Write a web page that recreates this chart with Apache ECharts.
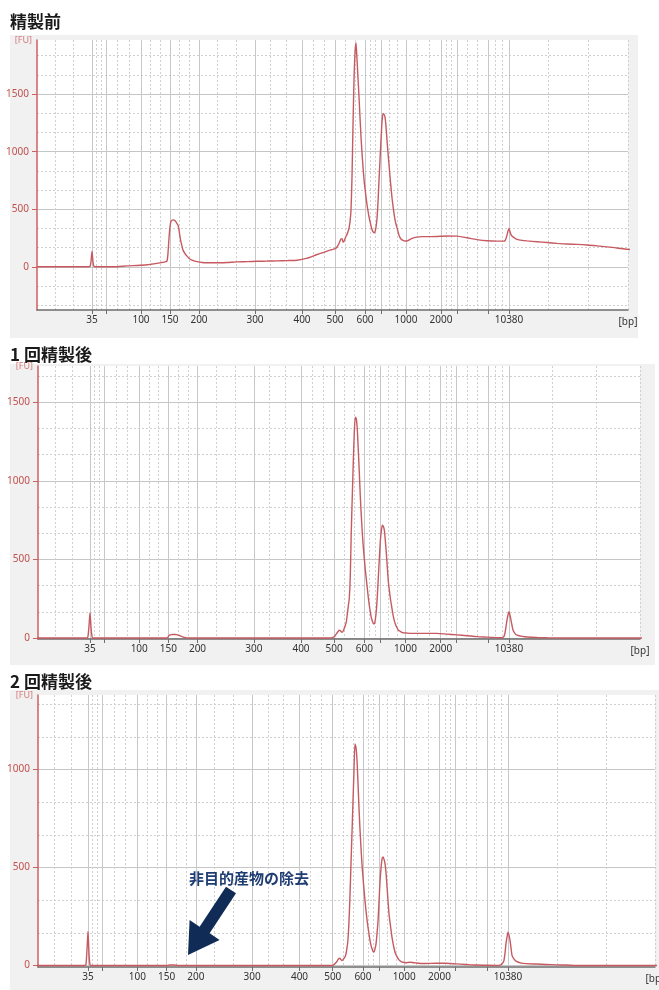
<!DOCTYPE html>
<html><head><meta charset="utf-8">
<script src="https://cdn.jsdelivr.net/npm/echarts@6/dist/echarts.min.js"></script>
<style>html,body{margin:0;padding:0;background:#fff}#c{width:659px;height:990px}</style>
</head><body><div id="c"></div>
<script>
// ---- data ----
const titles = ['精製前', '1 回精製後', '2 回精製後'];
const annotationText = '非目的産物の除去';
const ladderBp   = ['35','50','100','150','200','300','400','500','600','700','1000','2000','3000','7000','10380'];
const ladderTime = [55, 69, 104, 133, 162, 218, 265, 298, 328, 344, 369, 404, 420, 451, 472];
const labelledBp = ['35','100','150','200','300','400','500','600','1000','2000','10380'];
const yTickValues = [[0, 500, 1000, 1500], [0, 500, 1000, 1500], [0, 500, 1000]];

const time = [
  0,10,20,30,40,50,52,53,54,55,
  56,57,58,60,70,80,90,100,110,120,
  125,128,130,131,132,133,134,135,136,137,
  138,139,140,141,142,143,144,145,146,148,
  150,152,155,160,165,170,180,190,200,210,
  220,230,240,250,260,270,280,290,295,298,
  300,302,303,304,305,306,307,308,309,310,
  311,312,313,314,315,316,317,318,319,320,
  321,322,323,324,325,326,327,328,329,330,
  331,332,333,334,335,336,337,338,339,340,
  341,342,343,344,345,346,347,348,349,350,
  351,352,353,354,355,356,357,358,359,360,
  362,364,366,368,370,375,380,385,390,400,
  410,420,430,440,450,460,465,467,468,469,
  470,471,472,473,474,475,476,478,480,485,
  490,500,510,520,530,540,550,560,570,580,
  590,600,610,620,630
];
const fuBefore = [
  0,0,0,0,0,0,0,2,45,136,
  40,3,0,0,0,1,8,12,18,30,
  38,43,50,119,250,347,395,405,408,405,
  400,390,375,362,320,260,215,180,145,115,
  93,75,58,45,37,35,35,38,43,45,
  48,50,52,54,57,75,107,136,150,157,
  172,203,225,243,245,215,222,243,265,282,
  305,335,390,492,780,1230,1620,1860,1946,1800,
  1640,1477,1300,1130,990,870,760,680,608,540,
  485,434,395,355,325,305,296,305,345,420,
  560,750,927,1100,1260,1330,1325,1300,1220,1100,
  990,890,782,690,600,530,465,410,370,340,
  275,242,230,224,224,247,258,262,262,264,
  268,267,252,236,226,223,223,223,226,245,
  275,310,333,305,280,268,260,248,238,230,
  225,218,211,204,198,195,190,182,173,164,
  152,150,150,150,150
];
const fuAfter1 = [
  0,0,0,0,0,0,0,10,75,161,
  70,10,0,0,0,0,0,0,0,0,
  0,0,0,0,0,10,18,20,22,23,
  23,23,23,22,20,18,16,14,11,6,
  3,1,0,0,0,0,0,0,0,0,
  0,0,0,0,0,0,0,0,1,8,
  25,42,50,48,40,36,45,60,78,100,
  145,200,250,380,667,890,1110,1300,1405,1395,
  1330,1200,1060,905,780,670,580,505,435,375,
  315,258,208,165,130,108,92,90,118,175,
  270,390,510,620,685,718,710,685,615,535,
  440,355,300,250,210,170,135,108,88,72,
  50,42,35,33,32,30,30,30,30,30,
  25,20,15,9,6,3,2,10,32,70,
  114,145,167,145,114,80,51,28,19,11,
  7,4,2,1,0,0,0,0,0,0,
  0,0,0,0,0
];
const fuAfter2 = [
  0,0,0,0,0,0,0,5,80,173,
  60,3,0,0,0,0,0,0,0,0,
  0,0,0,0,0,0,0,1,2,2,
  2,2,2,2,1,1,0,0,0,0,
  0,0,0,0,0,0,0,0,0,0,
  0,0,0,0,0,0,0,0,0,0,
  8,19,28,35,37,30,25,28,35,42,
  55,85,125,210,340,500,660,820,980,1130,
  1115,1055,940,810,700,605,519,450,390,332,
  280,235,195,160,128,102,85,72,68,85,
  111,165,230,330,434,500,545,553,540,517,
  465,395,320,255,215,175,138,110,85,65,
  42,27,20,16,14,16,13,10,10,11,
  11,8,5,2,1,0,3,15,26,60,
  111,145,170,155,128,90,51,32,22,12,
  9,7,5,3,2,0,0,0,0,0,
  0,0,0,0,0
];
const traces = [fuBefore, fuAfter1, fuAfter2];

// ---- layout ----
const panels = [
  {left:37, top:40,  width:591, height:270, xMin:0,    xMax:591,   yMin:-375, yMax:1970, bg:[10,35,628,303],  titleY:22},
  {left:38, top:366, width:602, height:273, xMin:3.25, xMax:602.4, yMin:-6,   yMax:1730, bg:[10,364,645,301], titleY:355},
  {left:38, top:695, width:617, height:272, xMin:5.36, xMax:617.95,yMin:-8,   yMax:1380, bg:[10,690,649,300], titleY:682}
];
const labelTimes = labelledBp.map(b => ladderTime[ladderBp.indexOf(b)]);
function thirds(arr){const o=[];for(let i=0;i<arr.length-1;i++){const a=arr[i],b=arr[i+1];o.push(a+(b-a)/3,a+2*(b-a)/3);}return o;}
function yMinor(min,max){const o=[];for(let k=Math.floor(min/500);k<=Math.ceil(max/500);k++){[1,2].forEach(j=>{const v=k*500+j*500/3;if(v>min&&v<max)o.push(v);});}return o;}

const traceColor = '#c65a60';
const axisRed = '#cf5f5f';
const grid=[], xAxis=[], yAxis=[], series=[], graphic=[];
panels.forEach((p,i)=>{
  grid.push({left:p.left, top:p.top, width:p.width, height:p.height, show:true, backgroundColor:'#ffffff', borderWidth:0, containLabel:false, outerBoundsMode:'none'});
  const minorX = thirds([p.xMin, ...ladderTime, p.xMax]).concat([p.xMax]);
  xAxis.push({
    type:'value', gridIndex:i, min:p.xMin, max:p.xMax, position:'bottom',
    axisLine:{show:true, onZero:false, lineStyle:{color:'#6e6e6e', width:1.5}},
    axisTick:{show:true, customValues:ladderTime, length:4, lineStyle:{color:'#6e6e6e'}},
    axisLabel:{customValues:labelTimes, margin:5, color:'#333', fontSize:10, fontFamily:'Noto Sans',
      formatter:v=>{const k=ladderTime.indexOf(v);return k>=0?ladderBp[k]:'';}},
    splitLine:{show:true, lineStyle:{color:'#c6c8cc', width:1}},
    name:'[bp]', nameLocation:'end', nameGap:0,
    nameTextStyle:{align:'center', verticalAlign:'top', padding:[7,0,0,0], color:'#333', fontSize:10, fontFamily:'Noto Sans'}
  });
  xAxis.push({
    type:'value', gridIndex:i, min:p.xMin, max:p.xMax, position:'top',
    axisLine:{show:false}, axisTick:{show:false, customValues:minorX}, axisLabel:{show:false},
    splitLine:{show:true, lineStyle:{color:'#d0d0d0', width:1, type:[2,2]}}
  });
  yAxis.push({
    type:'value', gridIndex:i, min:p.yMin, max:p.yMax,
    axisLine:{show:true, onZero:false, lineStyle:{color:axisRed, width:1.5}},
    axisTick:{show:true, customValues:yTickValues[i], length:5, lineStyle:{color:axisRed}},
    axisLabel:{customValues:yTickValues[i], margin:8, color:'#c0504d', fontSize:10, fontFamily:'Noto Sans', formatter:v=>String(v)},
    splitLine:{show:true, lineStyle:{color:'#c6c6c6', width:1}},
    name:'[FU]', nameLocation:'end', nameGap:0,
    nameTextStyle:{align:'right', verticalAlign:'middle', padding:[0,5,0,0], color:'#d47a7a', fontSize:9, fontFamily:'Noto Sans'}
  });
  yAxis.push({
    type:'value', gridIndex:i, min:p.yMin, max:p.yMax, position:'right',
    axisLine:{show:false}, axisTick:{show:false, customValues:yMinor(p.yMin,p.yMax)}, axisLabel:{show:false},
    splitLine:{show:true, lineStyle:{color:'#d0d0d0', width:1, type:[2,2]}}
  });
  series.push({
    type:'line', xAxisIndex:2*i, yAxisIndex:2*i, showSymbol:false, symbol:'none', smooth:0.2,
    data: time.map((t,k)=>[t, traces[i][k]]),
    lineStyle:{color:traceColor, width:1.4}, z:5
  });
  graphic.push({type:'rect', z:-10, shape:{x:p.bg[0], y:p.bg[1], width:p.bg[2], height:p.bg[3]}, style:{fill:'#f1f1f1'}});
  graphic.push({type:'text', z:100, style:{x:10, y:p.titleY, text:titles[i], font:'bold 17px "Noto Sans CJK JP"', fill:'#1a1a1a', verticalAlign:'middle'}});
});
// annotation (panel 3)
graphic.push({type:'text', z:100, style:{x:249, y:878, text:annotationText, font:'bold 15px "Noto Sans CJK JP"', fill:'#1f3d73', align:'center', verticalAlign:'middle'}});
graphic.push({type:'polygon', z:100, shape:{points:[[188,955],[189.6,920],[199.6,926.7],[226,886.7],[236,893.3],[209.6,933.3],[219.6,939.9]]}, style:{fill:'#112b57'}});

const chart = echarts.init(document.getElementById('c'), null, {renderer:'canvas'});
chart.setOption({animation:false, backgroundColor:'#ffffff', grid, xAxis, yAxis, series, graphic});
</script></body></html>
